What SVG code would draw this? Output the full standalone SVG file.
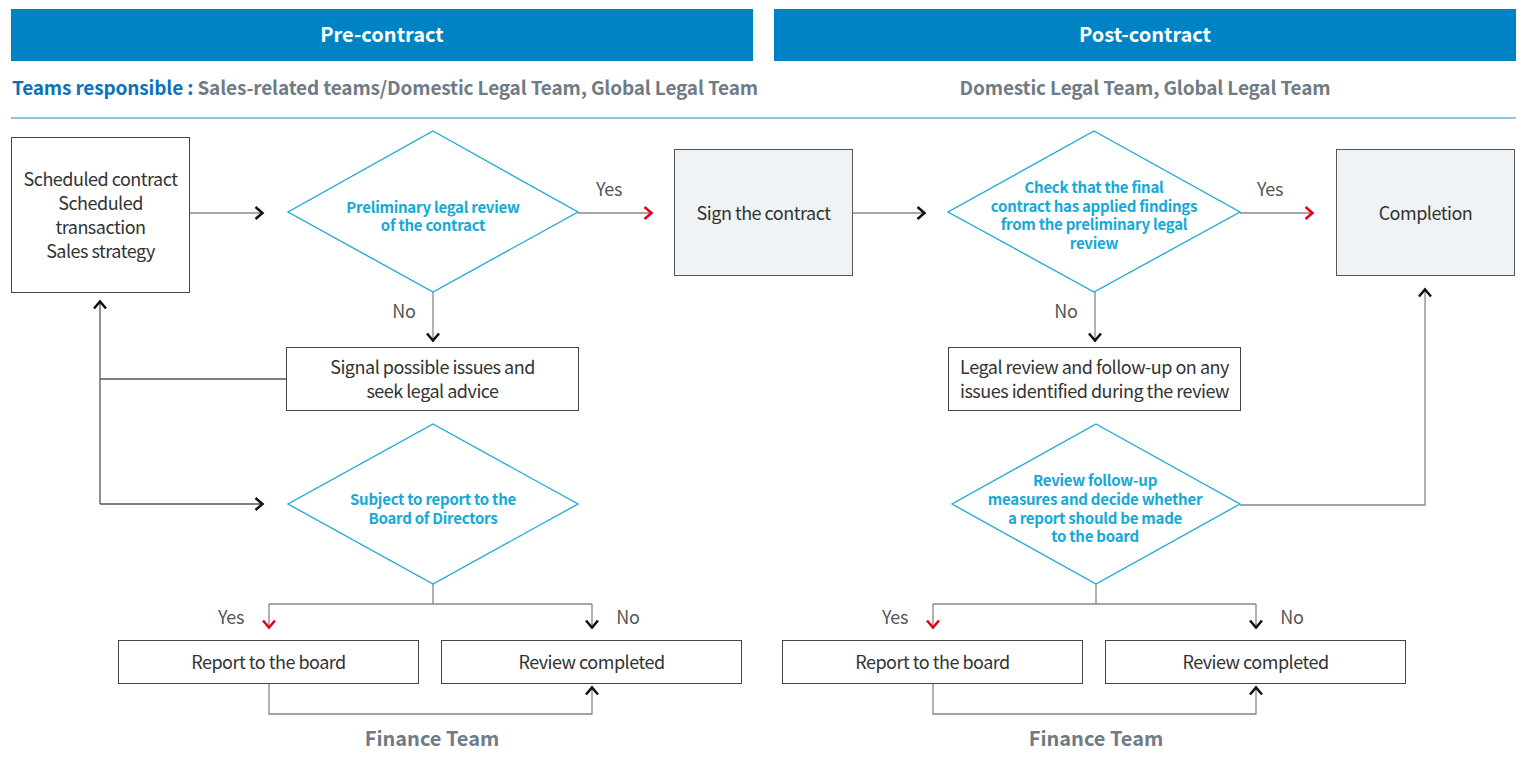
<svg xmlns="http://www.w3.org/2000/svg" width="1524" height="760" viewBox="0 0 1524 760">
<style>
.hdr{fill:#0083C4}
.hdrt{font-family:"Noto Sans CJK KR","Noto Sans",sans-serif;font-weight:bold;font-size:20px;fill:#fff;text-anchor:middle}
.team{font-family:"Noto Sans CJK KR","Noto Sans",sans-serif;font-weight:bold;font-size:19px;fill:#6F7B85;letter-spacing:-0.15px}
.teamb{fill:#0A72B8}
.box{fill:#fff;stroke:#444;stroke-width:1}
.gbox{fill:#F0F3F5;stroke:#555;stroke-width:1}
.dia{fill:#fff;stroke:#16A9D6;stroke-width:1.3}
.t{font-family:"Noto Sans CJK KR","Noto Sans",sans-serif;font-size:18px;fill:#333;text-anchor:middle;letter-spacing:-0.5px}
.dt{font-family:"Noto Sans CJK KR","Noto Sans",sans-serif;font-weight:bold;font-size:15px;fill:#16A9D6;text-anchor:middle;letter-spacing:-0.25px}
.lbl{font-family:"Noto Sans CJK KR","Noto Sans",sans-serif;font-size:18px;fill:#555;text-anchor:middle;letter-spacing:-0.3px}
.fin{font-family:"Noto Sans CJK KR","Noto Sans",sans-serif;font-weight:bold;font-size:20px;fill:#6F7B85;text-anchor:middle}
.ln{fill:none;stroke:#888;stroke-width:1.3}
.ln2{fill:none;stroke:#555;stroke-width:1.3}
</style>
<defs>
<marker id="ab" markerUnits="userSpaceOnUse" markerWidth="14" markerHeight="18" refX="11" refY="9" orient="auto" viewBox="0 0 14 18">
<path d="M3.5,3 L10.5,9 L3.5,15" fill="none" stroke="#111" stroke-width="2.5"/>
</marker>
<marker id="ar" markerUnits="userSpaceOnUse" markerWidth="14" markerHeight="18" refX="11" refY="9" orient="auto" viewBox="0 0 14 18">
<path d="M3.5,3 L10.5,9 L3.5,15" fill="none" stroke="#E5001A" stroke-width="2.5"/>
</marker>
</defs>
<rect width="1524" height="760" fill="#fff"/>

<g id="header-pre">
<rect class="hdr" x="11" y="9" width="742" height="52"/>
<text class="hdrt" x="382" y="42">Pre-contract</text>
</g>
<g id="header-post">
<rect class="hdr" x="774" y="9" width="742" height="52"/>
<text class="hdrt" x="1145" y="42">Post-contract</text>
</g>
<g id="teams">
<text class="team" x="12" y="95"><tspan class="teamb">Teams responsible</tspan><tspan class="teamb"> : </tspan>Sales-related teams/Domestic Legal Team, Global Legal Team</text>
<text class="team" x="1145" y="95" text-anchor="middle">Domestic Legal Team, Global Legal Team</text>
<line x1="11" y1="118" x2="1516" y2="118" stroke="#6AAEE0" stroke-width="1.5"/>
</g>

<g id="connectors">
<line class="ln" x1="190" y1="213" x2="263" y2="213" marker-end="url(#ab)"/>
<line class="ln" x1="578" y1="213" x2="652" y2="213" marker-end="url(#ar)"/>
<line class="ln" x1="853" y1="213" x2="925" y2="213" marker-end="url(#ab)"/>
<line class="ln" x1="1240" y1="213" x2="1313" y2="213" marker-end="url(#ar)"/>
<line class="ln" x1="433" y1="292" x2="433" y2="341" marker-end="url(#ab)"/>
<line class="ln" x1="1095" y1="292" x2="1095" y2="341" marker-end="url(#ab)"/>
<polyline class="ln2" points="286,379 100,379"/>
<line class="ln2" x1="100" y1="504" x2="100" y2="301" marker-end="url(#ab)"/>
<line class="ln2" x1="100" y1="504" x2="263" y2="504" marker-end="url(#ab)"/>
<polyline class="ln" points="1240,505 1425,505 1425,289" marker-end="url(#ab)"/>
<line class="ln" x1="433" y1="584" x2="433" y2="604"/>
<polyline class="ln" points="269,604 592,604"/>
<line class="ln" x1="269" y1="604" x2="269" y2="628" marker-end="url(#ar)"/>
<line class="ln" x1="592" y1="604" x2="592" y2="628" marker-end="url(#ab)"/>
<polyline class="ln" points="269,684 269,714 592,714 592,687" marker-end="url(#ab)"/>
<line class="ln" x1="1096" y1="584" x2="1096" y2="604"/>
<polyline class="ln" points="933,604 1256,604"/>
<line class="ln" x1="933" y1="604" x2="933" y2="628" marker-end="url(#ar)"/>
<line class="ln" x1="1256" y1="604" x2="1256" y2="628" marker-end="url(#ab)"/>
<polyline class="ln" points="933,684 933,714 1256,714 1256,687" marker-end="url(#ab)"/>
</g>

<g id="labels">
<text class="lbl" x="609" y="196">Yes</text>
<text class="lbl" x="1270" y="196">Yes</text>
<text class="lbl" x="404" y="318">No</text>
<text class="lbl" x="1066" y="318">No</text>
<text class="lbl" x="231" y="624">Yes</text>
<text class="lbl" x="628" y="624">No</text>
<text class="lbl" x="895" y="624">Yes</text>
<text class="lbl" x="1292" y="624">No</text>
</g>

<g id="n-start">
<rect class="box" x="11.5" y="137.5" width="178" height="155"/>
<text class="t" x="100.5" y="186">Scheduled contract</text>
<text class="t" x="100.5" y="210">Scheduled</text>
<text class="t" x="100.5" y="234">transaction</text>
<text class="t" x="100.5" y="258">Sales strategy</text>
</g>
<g id="n-prelim">
<polygon class="dia" points="433,131 578,212 433,292 288,212"/>
<text class="dt" x="433" y="213">Preliminary legal review</text>
<text class="dt" x="433" y="231">of the contract</text>
</g>
<g id="n-sign">
<rect class="gbox" x="674.5" y="149.5" width="178" height="126"/>
<text class="t" x="763.5" y="220">Sign the contract</text>
</g>
<g id="n-check">
<polygon class="dia" points="1094,131 1240,212 1094,292 948,212"/>
<text class="dt" x="1094" y="193">Check that the final</text>
<text class="dt" x="1094" y="212">contract has applied findings</text>
<text class="dt" x="1094" y="230">from the preliminary legal</text>
<text class="dt" x="1094" y="249">review</text>
</g>
<g id="n-completion">
<rect class="gbox" x="1336.5" y="149.5" width="178" height="126"/>
<text class="t" x="1425.5" y="220">Completion</text>
</g>
<g id="n-signal">
<rect class="box" x="286.5" y="347.5" width="292" height="63"/>
<text class="t" x="432.5" y="374">Signal possible issues and</text>
<text class="t" x="432.5" y="398">seek legal advice</text>
</g>
<g id="n-legal">
<rect class="box" x="948.5" y="347.5" width="292" height="63"/>
<text class="t" x="1094.5" y="374">Legal review and follow-up on any</text>
<text class="t" x="1094.5" y="398">issues identified during the review</text>
</g>
<g id="n-subject">
<polygon class="dia" points="433,424 578,504 433,584 288,504"/>
<text class="dt" x="433" y="505">Subject to report to the</text>
<text class="dt" x="433" y="524">Board of Directors</text>
</g>
<g id="n-followup">
<polygon class="dia" points="1096,424 1240,504 1096,584 952,504"/>
<text class="dt" x="1095" y="486">Review follow-up</text>
<text class="dt" x="1095" y="505">measures and decide whether</text>
<text class="dt" x="1095" y="524">a report should be made</text>
<text class="dt" x="1095" y="542">to the board</text>
</g>
<g id="n-report1">
<rect class="box" x="118.5" y="640.5" width="300" height="43"/>
<text class="t" x="268.5" y="669">Report to the board</text>
</g>
<g id="n-done1">
<rect class="box" x="441.5" y="640.5" width="300" height="43"/>
<text class="t" x="591.5" y="669">Review completed</text>
</g>
<g id="n-report2">
<rect class="box" x="782.5" y="640.5" width="300" height="43"/>
<text class="t" x="932.5" y="669">Report to the board</text>
</g>
<g id="n-done2">
<rect class="box" x="1105.5" y="640.5" width="300" height="43"/>
<text class="t" x="1255.5" y="669">Review completed</text>
</g>
<g id="finance">
<text class="fin" x="432" y="746">Finance Team</text>
<text class="fin" x="1096" y="746">Finance Team</text>
</g>
</svg>
